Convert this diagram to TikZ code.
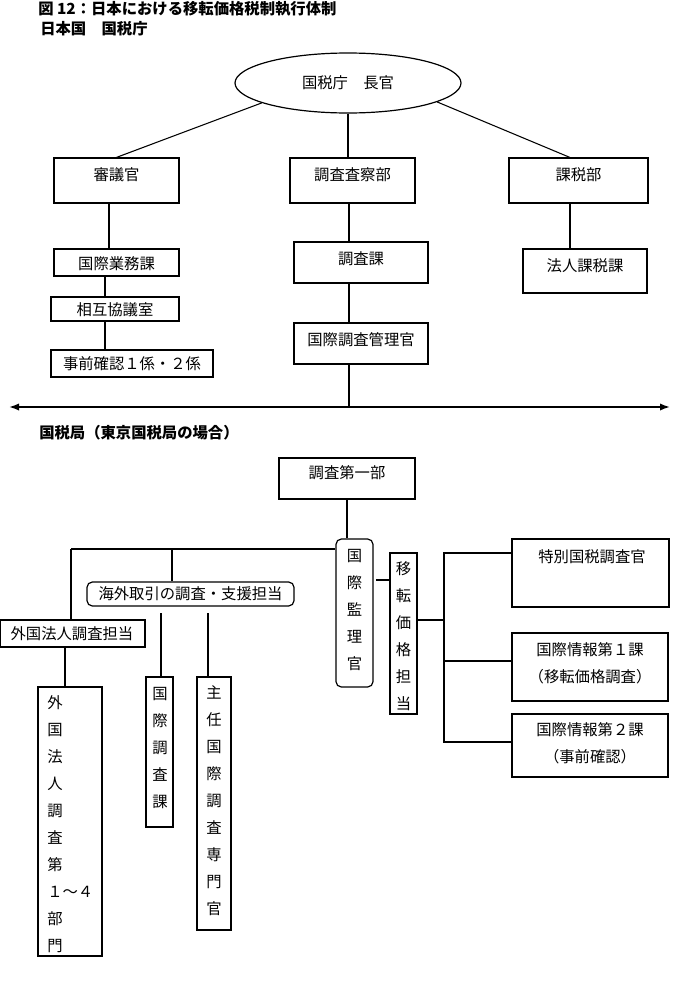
\documentclass[tikz,border=0pt]{standalone}
\usepackage{fontspec}
\setmainfont{Noto Sans CJK JP}
\usetikzlibrary{arrows.meta,shapes.geometric,fit}
\tikzset{
  lbl/.style={font=\fontsize{11.5}{14}\selectfont, inner sep=0pt},
  hdr/.style={font=\bfseries\fontsize{11.5}{14}\selectfont, inner sep=0pt, anchor=west},
  vlbl/.style={font=\fontsize{11.5}{20.25}\selectfont, inner sep=0pt, align=center},
  twoline/.style={font=\fontsize{11.5}{20.25}\selectfont, inner sep=0pt, align=center},
  box/.style={draw, line width=0.9pt, inner sep=0pt},
  rbox/.style={draw, line width=0.9pt, inner sep=0pt, rounded corners=4pt},
  conn/.style={line width=0.8pt},
  bigarrow/.style={line width=1.4pt, {Latex[length=7.5pt,width=5.5pt]}-{Latex[length=7.5pt,width=5.5pt]}}
}
\begin{document}
\begin{tikzpicture}[x=0.75pt,y=-0.75pt]
\useasboundingbox (0,0) rectangle (672,989);

% headings
\node[hdr] (title) at (38,9) {図 12：日本における移転価格税制執行体制};
\node[hdr] (hdrA) at (40,29) {日本国　国税庁};
\node[hdr] (hdrB) at (39,433) {国税局（東京国税局の場合）};

% ---------- National Tax Agency ----------
\node[draw, ellipse, line width=0.9pt, minimum width=169.5pt, minimum height=45pt, inner sep=0pt,
      font=\fontsize{11.5}{14}\selectfont] (chief) at (348,83) {国税庁　長官};

\node[box, fit={(54,158) (179,203)}] (shingi) {};
\node[box, fit={(290,158) (415,203)}] (chosa) {};
\node[box, fit={(509,158) (648,203)}] (kazei) {};
\node[lbl] (shingiT) at (116.5,175) {審議官};
\node[lbl] (chosaT) at (352.5,175) {調査査察部};
\node[lbl] (kazeiT) at (578.5,175) {課税部};

\node[box, fit={(54,249) (179,276)}] (gyomu) {};
\node[box, fit={(51,297) (179,321)}] (sogo) {};
\node[box, fit={(51,350) (213,377)}] (jizen) {};
\node[lbl] (gyomuT) at (116.5,264) {国際業務課};
\node[lbl] (sogoT) at (115,310) {相互協議室};
\node[lbl] (jizenT) at (132,364) {事前確認１係・２係};

\node[box, fit={(294,242) (428,283)}] (chosaka) {};
\node[box, fit={(294,323) (428,364)}] (kanri) {};
\node[lbl] (chosakaT) at (361,259) {調査課};
\node[lbl] (kanriT) at (361,340) {国際調査管理官};

\node[box, fit={(523,249) (647,293)}] (hojin) {};
\node[lbl] (hojinT) at (585,266) {法人課税課};

% connectors (top)
\draw[conn] (chief.-167) -- (shingi.north);
\draw[conn] (chief.south) -- (chief.south |- chosa.north);
\draw[conn] (chief.-12) -- ([xshift=-6.5pt]kazei.north);
\coordinate (sx) at (109,0);
\draw[conn] (sx |- shingi.south) -- (sx |- gyomu.north);
\coordinate (gx) at (105,0);
\draw[conn] (gx |- gyomu.south) -- (gx |- sogo.north);
\draw[conn] (gx |- sogo.south) -- (gx |- jizen.north);
\coordinate (cx) at (349,0);
\draw[conn] (cx |- chosa.south) -- (cx |- chosaka.north);
\draw[conn] (cx |- chosaka.south) -- (cx |- kanri.north);
\coordinate (kx) at (570,0);
\draw[conn] (kx |- kazei.south) -- (kx |- hojin.north);

% divider arrow
\coordinate (aL) at (9,407);
\coordinate (aR) at (670,407);
\draw[conn] (cx |- kanri.south) -- (cx |- aL);
\draw[bigarrow] (aL) -- (aR);

% ---------- Regional Taxation Bureau ----------
\node[box, fit={(279,458) (415,499)}] (ichibu) {};
\node[lbl] (ichibuT) at (347,473) {調査第一部};

\node[rbox, fit={(336,539) (373,687)}] (kanriK) {};
\node[vlbl] (kanriKT) at (354.5,610) {国\\際\\監\\理\\官};

\node[rbox, fit={(87,582) (294,606)}] (kaigai) {};
\node[lbl] (kaigaiT) at (190.5,594) {海外取引の調査・支援担当};

\node[box, fit={(0,620) (145,647)}] (gaikoku) {};
\node[lbl] (gaikokuT) at (72,634) {外国法人調査担当};

\node[box, fit={(146,677) (173,827)}] (kokuchoka) {};
\node[vlbl] (kokuchokaT) at (160,748) {国\\際\\調\\査\\課};

\node[box, fit={(197,677) (231,930)}] (shunin) {};
\node[vlbl] (shuninT) at (214,801) {主\\任\\国\\際\\調\\査\\専\\門\\官};

\node[box, fit={(38,687) (102,956)}] (gaikokubu) {};
\node[vlbl, align=left, anchor=west] (gaikokubuT) at (47,824.5) {外\\国\\法\\人\\調\\査\\第\\１～４\\部\\門};

\node[box, fit={(390,553) (417,714)}] (iten) {};
\node[vlbl] (itenT) at (403.5,636) {移\\転\\価\\格\\担\\当};

\node[box, fit={(512,539) (669,607)}] (tokubetsu) {};
\node[lbl] (tokubetsuT) at (592,557) {特別国税調査官};

\node[box, fit={(512,633) (668,701)}] (joho1) {};
\node[twoline] (joho1T) at (590,663.5) {国際情報第１課\\（移転価格調査）};

\node[box, fit={(512,714) (668,777)}] (joho2) {};
\node[twoline] (joho2T) at (590,743.5) {国際情報第２課\\（事前確認）};

% connectors (bottom)
\draw[conn] (ichibu.south) -- (ichibu.south |- kanriK.north);
\coordinate (hb) at (71,549);
\coordinate (kb) at (172,549);
\draw[conn] (hb) -- (hb -| kanriK.west);
\draw[conn] (hb) -- (hb |- gaikoku.north);
\draw[conn] (kb) -- (kb |- kaigai.north);
\coordinate (d1) at (161,613);
\coordinate (d2) at (208,613);
\draw[conn] (d1) -- (d1 |- kokuchoka.north);
\draw[conn] (d2) -- (d2 |- shunin.north);
\coordinate (gb) at (65,0);
\draw[conn] (gb |- gaikoku.south) -- (gb |- gaikokubu.north);
\coordinate (kc) at (376,580);
\draw[conn] (kc) -- (kc -| iten.west);
\coordinate (v0) at (444,620);
\coordinate (v1) at (444,553);
\coordinate (v2) at (444,661);
\coordinate (v3) at (444,742);
\draw[conn] (v0 -| iten.east) -- (v0);
\draw[conn] (v1 -| tokubetsu.west) -- (v1) -- (v3) -- (v3 -| joho2.west);
\draw[conn] (v2) -- (v2 -| joho1.west);
\end{tikzpicture}
\end{document}
